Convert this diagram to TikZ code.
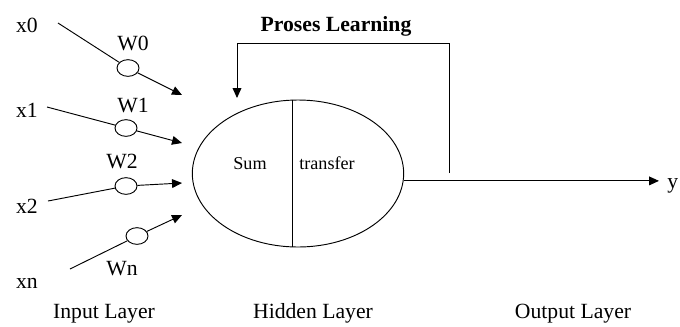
\documentclass[tikz,border=0pt]{standalone}
\usepackage{fontspec}
\setmainfont{Liberation Serif}
\usepackage{tikz}
\usetikzlibrary{arrows.meta,shapes.geometric}

\begin{document}
\begin{tikzpicture}[x=0.03cm,y=-0.03cm,line width=0.8pt,
  font=\fontsize{18.5}{20}\selectfont,>={Triangle[length=8.5pt,width=7.5pt]},
  lbl/.style={anchor=base,inner sep=0pt},
  wgt/.style={draw,ellipse,fill=white,minimum width=0.66cm,minimum height=0.5cm,inner sep=0pt}]
\useasboundingbox (0,0) rectangle (680,326);
% inputs
\node[lbl] (x0) at (27,32) {x0};
\node[lbl] (x1) at (27,117) {x1};
\node[lbl] (x2) at (27,213) {x2};
\node[lbl] (xn) at (27,288) {xn};
\coordinate (i0) at (58,23);
\coordinate (i1) at (47,107);
\coordinate (i2) at (48,201);
\coordinate (in) at (70,269);
\coordinate (t0) at (182,95);
\coordinate (t1) at (182,143);
\coordinate (t2) at (182,183);
\coordinate (tn) at (182,215);
% weights
\node[wgt] (w0) at (128,68) {};
\node[wgt] (w1) at (126,128) {};
\node[wgt] (w2) at (126,186) {};
\node[wgt] (wn) at (137,236) {};
\node[lbl] (lw0) at (133,50) {W0};
\node[lbl] (lw1) at (133,112) {W1};
\node[lbl] (lw2) at (122,168) {W2};
\node[lbl] (lwn) at (122,275) {Wn};
\foreach \k in {0,1,2,n}{
  \draw (i\k) -- (w\k);
  \draw[->] (w\k) -- (t\k);
}
% neuron
\node[draw,ellipse,minimum width=6.34cm,minimum height=4.41cm,inner sep=0pt] (neuron) at (298,173.5) {};
\draw ([xshift=-0.18cm]neuron.north) -- ([xshift=-0.18cm]neuron.south);
\node[lbl,font=\fontsize{15.5}{17}\selectfont] (sum) at (250,169) {Sum};
\node[lbl,font=\fontsize{15.5}{17}\selectfont] (tf) at (327,169) {transfer};
% learning loop
\node[lbl,font=\fontsize{18.5}{20}\selectfont\bfseries] (learn) at (336,31) {Proses Learning};
\coordinate (fbstart) at (449,173);
\coordinate (fbtop) at (449,43);
\coordinate (fbtip) at (237,98);
\draw[->] (fbstart) -- (fbtop) -| (fbtip);
% output
\coordinate (ytip) at (659,182);
\draw[->] (neuron.-4.5) -- (neuron.-4.5 -| ytip);
\node[lbl,anchor=base west] (y) at (667,188) {y};
% layers
\node[lbl] (inl) at (104,318) {Input Layer};
\node[lbl] (hid) at (313,318) {Hidden Layer};
\node[lbl] (outl) at (573,318) {Output Layer};
\end{tikzpicture}
\end{document}
